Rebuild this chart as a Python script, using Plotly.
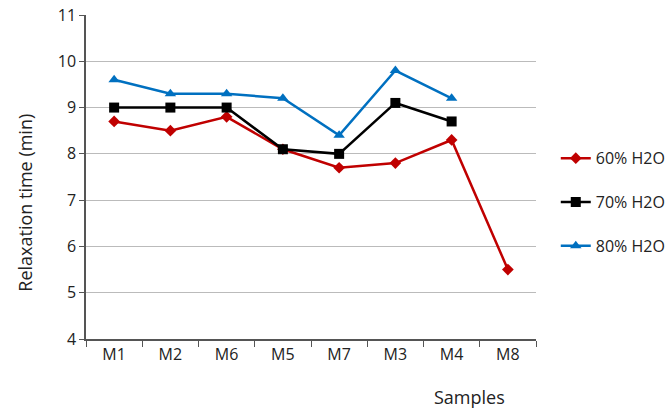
import plotly.graph_objects as go

samples = ["M1", "M2", "M6", "M5", "M7", "M3", "M4", "M8"]
h2o_60 = [8.7, 8.5, 8.8, 8.1, 7.7, 7.8, 8.3, 5.5]
h2o_70 = [9.0, 9.0, 9.0, 8.1, 8.0, 9.1, 8.7]
h2o_80 = [9.6, 9.3, 9.3, 9.2, 8.4, 9.8, 9.2]
y_ticks = [4, 5, 6, 7, 8, 9, 10, 11]

font_family = "Open Sans, Noto Sans, DejaVu Sans, sans-serif"

fig = go.Figure()
series = [
    ("60% H2O", h2o_60, "#C00000", "diamond", 9),
    ("70% H2O", h2o_70, "#000000", "square", 10),
    ("80% H2O", h2o_80, "#0070C0", "triangle-up", 10),
]
for name, vals, color, sym, size in series:
    fig.add_trace(go.Scatter(
        x=samples[:len(vals)], y=vals, name=name, mode="lines+markers",
        line=dict(color=color, width=2.5),
        marker=dict(symbol=sym, size=size, color=color),
        legendgroup=name,
    ))

fig.update_layout(
    width=668, height=412, autosize=False,
    margin=dict(l=86, r=132, t=15, b=73),
    paper_bgcolor="white", plot_bgcolor="white",
    font=dict(family=font_family, size=16, color="#222222"),
    showlegend=True,
    legend=dict(xref="container", yref="container",
                x=0.832, y=0.657, xanchor="left", yanchor="top",
                traceorder="grouped", tracegroupgap=20,
                font=dict(size=16, color="#222222"),
                itemwidth=30, bgcolor="rgba(0,0,0,0)"),
    xaxis=dict(
        type="category", categoryorder="array", categoryarray=samples,
        range=[-0.5, 7.5], automargin=False,
        showline=True, linecolor="#555555", linewidth=1.5,
        ticks="outside", tickson="boundaries", ticklen=6, tickcolor="#555555",
        showgrid=False, tickfont=dict(size=16),
    ),
    yaxis=dict(
        range=[4, 11], tickvals=y_ticks, automargin=False,
        showline=True, linecolor="#555555", linewidth=1.5,
        ticks="outside", ticklen=5, tickcolor="#555555",
        showgrid=True, gridcolor="#BBBBBB", gridwidth=1.2,
        zeroline=False,
        tickfont=dict(size=16),
    ),
)
fig.add_annotation(text="Relaxation time (min)", xref="paper", yref="paper",
                   x=-0.136, y=0.42, xanchor="center", yanchor="middle",
                   textangle=-90, showarrow=False,
                   font=dict(size=18, color="#222222"))
fig.add_annotation(text="Samples", xref="paper", yref="paper",
                   x=0.853, y=-0.18, xanchor="center", yanchor="middle",
                   showarrow=False, font=dict(size=18, color="#222222"))

post = ("document.body.style.margin='0';document.body.style.overflow='hidden';"
        "Plotly.relayout('{plot_id}', {width: 668, height: 412});")
fig.write_html("out.html", config={"responsive": False, "displayModeBar": False},
               default_width="668px", default_height="412px",
               post_script=post)
